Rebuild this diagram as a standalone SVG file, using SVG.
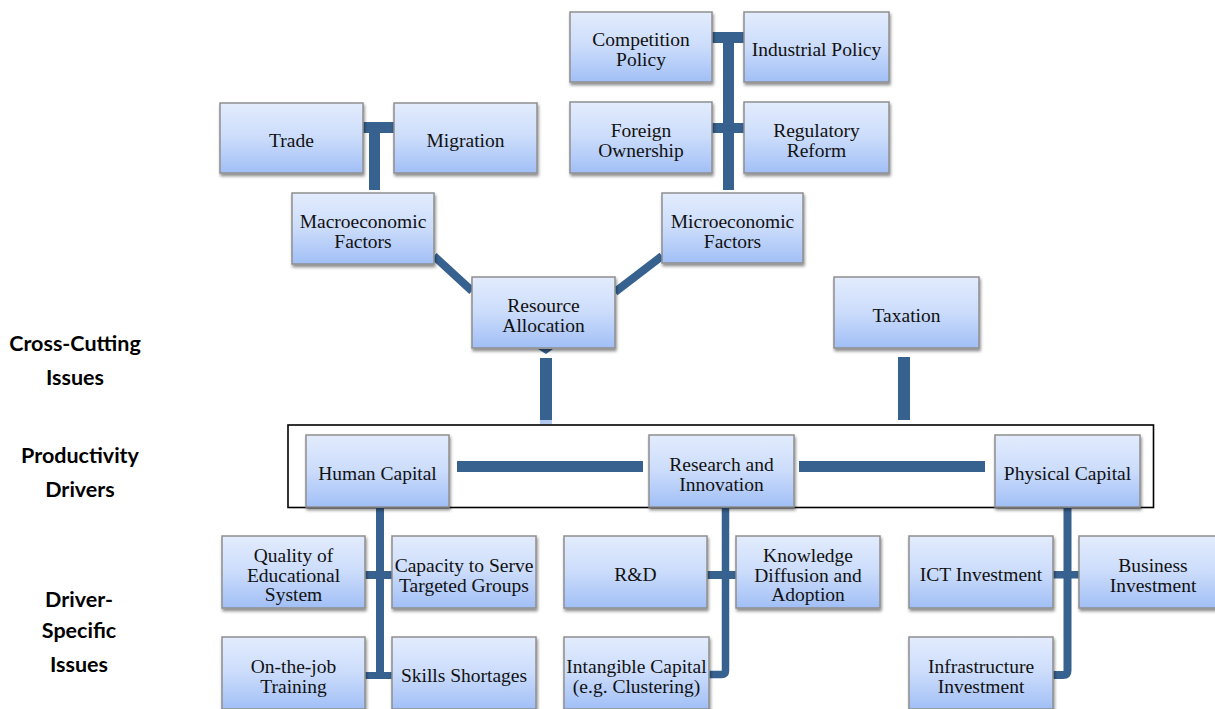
<svg xmlns="http://www.w3.org/2000/svg" width="1215" height="709" viewBox="0 0 1215 709">
<defs>
<linearGradient id="g" x1="0" y1="0" x2="0" y2="1">
<stop offset="0" stop-color="#e3ecfd"/>
<stop offset="0.5" stop-color="#cbdcfb"/>
<stop offset="1" stop-color="#a1bff6"/>
</linearGradient>
<filter id="sh" x="-10%" y="-10%" width="125%" height="130%">
<feDropShadow dx="1" dy="2.5" stdDeviation="1.6" flood-color="#000" flood-opacity="0.45"/>
</filter>
<style>
.n rect{fill:url(#g);stroke:#8e8e8e;stroke-width:1.5;filter:url(#sh)}
.n text{font-family:"Liberation Serif","Times New Roman",serif;font-size:19.5px;fill:#111;text-anchor:middle}
.c{fill:#37618f;stroke:none}
.cl{fill:none;stroke:#37618f}
.lab{font-family:Lato,"Liberation Sans",sans-serif;font-weight:bold;font-size:21.5px;fill:#000;text-anchor:middle}
</style>
</defs>
<rect width="1215" height="709" fill="#fff"/>

<g id="labels">
<text class="lab" x="75" y="351">Cross-Cutting</text>
<text class="lab" x="75" y="385">Issues</text>
<text class="lab" x="80" y="463">Productivity</text>
<text class="lab" x="80" y="497">Drivers</text>
<text class="lab" x="79" y="607">Driver-</text>
<text class="lab" x="79" y="638">Specific</text>
<text class="lab" x="79" y="672">Issues</text>
</g>

<rect id="drivers-frame" x="288" y="425" width="865.5" height="82.5" fill="none" stroke="#000" stroke-width="1.6"/>

<g id="connectors">
<rect class="c" x="363" y="122" width="31" height="11"/>
<rect class="c" x="369" y="122" width="11" height="68"/>
<rect class="c" x="712" y="32" width="32" height="11"/>
<rect class="c" x="712" y="123" width="32" height="10"/>
<rect class="c" x="723" y="32" width="11" height="158"/>
<line class="cl" x1="434" y1="256" x2="472" y2="291" stroke-width="8"/>
<line class="cl" x1="615" y1="292" x2="662" y2="256" stroke-width="8"/>
<polygon class="c" points="538,349 553,349 546,354"/>
<rect class="c" x="540" y="358" width="12" height="62"/>
<rect x="540" y="420" width="12" height="4" fill="#b3c8ee"/>
<rect class="c" x="898" y="357" width="12" height="63"/>
<rect class="c" x="457" y="461" width="186" height="11"/>
<rect class="c" x="799" y="461" width="186" height="11"/>
<rect class="c" x="376" y="507" width="8" height="172"/>
<rect class="c" x="365" y="571" width="27" height="8"/>
<rect class="c" x="365" y="672" width="27" height="7"/>
<path class="cl" d="M725.5 507 V670.5 Q725.5 674.5 721.5 674.5 H709" stroke-width="7.5"/>
<rect class="c" x="707" y="571" width="29" height="8"/>
<path class="cl" d="M1067.5 507 V670.5 Q1067.5 675 1063 675 H1053" stroke-width="8"/>
<rect class="c" x="1053" y="571" width="26" height="7.5"/>
</g>

<g id="competition" class="n"><rect x="570" y="12" width="142" height="70"/><text x="641" y="46">Competition</text><text x="641" y="66">Policy</text></g>
<g id="industrial" class="n"><rect x="744" y="12" width="145" height="70"/><text x="816.5" y="56">Industrial Policy</text></g>
<g id="foreign" class="n"><rect x="570" y="102" width="142" height="71"/><text x="641" y="137">Foreign</text><text x="641" y="157">Ownership</text></g>
<g id="regulatory" class="n"><rect x="744" y="102" width="145" height="71"/><text x="816.5" y="137">Regulatory</text><text x="816.5" y="157">Reform</text></g>
<g id="trade" class="n"><rect x="220" y="103" width="143" height="70"/><text x="291.5" y="147">Trade</text></g>
<g id="migration" class="n"><rect x="394" y="103" width="143" height="70"/><text x="465.5" y="147">Migration</text></g>
<g id="macro" class="n"><rect x="292" y="193" width="142" height="71"/><text x="363" y="228">Macroeconomic</text><text x="363" y="248">Factors</text></g>
<g id="micro" class="n"><rect x="662" y="193" width="141" height="70"/><text x="732.5" y="228">Microeconomic</text><text x="732.5" y="248">Factors</text></g>
<g id="resource" class="n"><rect x="472" y="277" width="143" height="71"/><text x="543.5" y="312">Resource</text><text x="543.5" y="332">Allocation</text></g>
<g id="taxation" class="n"><rect x="834" y="277" width="145" height="71"/><text x="906.5" y="322">Taxation</text></g>
<g id="human" class="n"><rect x="306" y="435" width="143" height="72"/><text x="377.5" y="480">Human Capital</text></g>
<g id="research" class="n"><rect x="649" y="435" width="145" height="72"/><text x="721.5" y="471">Research and</text><text x="721.5" y="491">Innovation</text></g>
<g id="physical" class="n"><rect x="995" y="435" width="145" height="72"/><text x="1067.5" y="480">Physical Capital</text></g>
<g id="quality" class="n"><rect x="222" y="536" width="143" height="72"/><text x="293.5" y="562">Quality of</text><text x="293.5" y="581.5">Educational</text><text x="293.5" y="601">System</text></g>
<g id="capacity" class="n"><rect x="392" y="536" width="144" height="72"/><text x="464" y="572">Capacity to Serve</text><text x="464" y="592">Targeted Groups</text></g>
<g id="onthejob" class="n"><rect x="222" y="637" width="143" height="72"/><text x="293.5" y="673">On-the-job</text><text x="293.5" y="693">Training</text></g>
<g id="skills" class="n"><rect x="392" y="637" width="144" height="72"/><text x="464" y="682">Skills Shortages</text></g>
<g id="rd" class="n"><rect x="564" y="536" width="143" height="72"/><text x="635.5" y="581">R&amp;D</text></g>
<g id="knowledge" class="n"><rect x="736" y="536" width="144" height="72"/><text x="808" y="562">Knowledge</text><text x="808" y="581.5">Diffusion and</text><text x="808" y="601">Adoption</text></g>
<g id="intangible" class="n"><rect x="564" y="637" width="145" height="72"/><text x="636.5" y="673">Intangible Capital</text><text x="636.5" y="693">(e.g. Clustering)</text></g>
<g id="ict" class="n"><rect x="909" y="536" width="144" height="72"/><text x="981" y="581">ICT Investment</text></g>
<g id="business" class="n"><rect x="1079" y="536" width="145" height="72"/><text x="1153" y="572">Business</text><text x="1153" y="592">Investment</text></g>
<g id="infrastructure" class="n"><rect x="909" y="637" width="144" height="72"/><text x="981" y="673">Infrastructure</text><text x="981" y="693">Investment</text></g>
</svg>
